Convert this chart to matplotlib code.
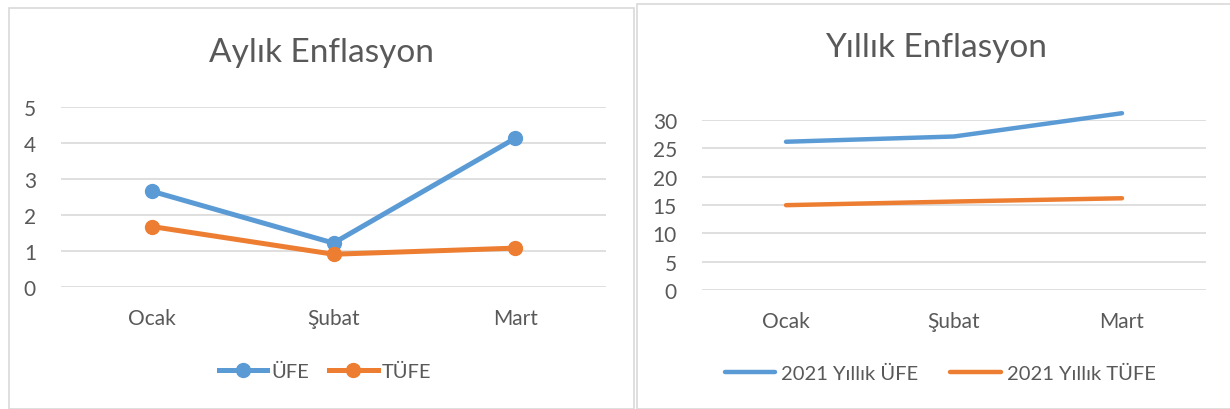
import matplotlib
matplotlib.use('Agg')
import matplotlib.pyplot as plt
from matplotlib.patches import Rectangle

aylar = ['Ocak', 'Şubat', 'Mart']
aylik_ufe = [2.66, 1.22, 4.13]
aylik_tufe = [1.68, 0.91, 1.08]
yillik_ufe = [26.16, 27.09, 31.20]
yillik_tufe = [14.97, 15.61, 16.19]

mavi = '#5B9BD5'
turuncu = '#ED7D31'
gri = '#595959'
plt.rcParams['font.family'] = ['Lato', 'DejaVu Sans']

W, H = 1230, 410
fig = plt.figure(figsize=(W / 100, H / 100), dpi=100)

def px(x0, y0, x1, y1):
    # piksel -> figure oranı
    return [x0 / W, 1 - y1 / H, (x1 - x0) / W, (y1 - y0) / H]

# kutular
fig.patches.append(Rectangle((9 / W, 0), (634 - 9) / W, 1 - 9 / H, transform=fig.transFigure,
                             fill=False, edgecolor='#D9D9D9', lw=1.2))
fig.patches.append(Rectangle((637 / W, 0), (1240 - 637) / W, 1 - 5 / H, transform=fig.transFigure,
                             fill=False, edgecolor='#D9D9D9', lw=1.2))

def stil(ax, yticks):
    for s in ax.spines.values():
        s.set_visible(False)
    ax.set_yticks(yticks)
    ax.grid(axis='y', color='#D9D9D9', lw=1.2)
    ax.set_axisbelow(True)
    ax.tick_params(length=0, labelsize=15, colors=gri)
    ax.tick_params(axis='y', pad=18)
    ax.tick_params(axis='x', pad=15)
    ax.set_xlim(-0.5, 2.5)

# Aylık
ax1 = fig.add_axes(px(61, 108, 606, 288))
ax1.plot(aylar, aylik_ufe, color=mavi, lw=3.6, marker='o', ms=10, label='ÜFE', clip_on=False)
ax1.plot(aylar, aylik_tufe, color=turuncu, lw=3.6, marker='o', ms=10, label='TÜFE', clip_on=False)
ax1.set_ylim(0, 5)
stil(ax1, range(0, 6))
fig.text(321 / W, 1 - 53 / H, 'Aylık Enflasyon', ha='center', va='center', fontsize=24, color=gri)
ax1.legend(loc='center', bbox_to_anchor=(325 / W, 1 - 372 / H), bbox_transform=fig.transFigure,
           ncol=2, frameon=False, fontsize=14.5, labelcolor=gri, handlelength=2.4,
           handletextpad=0.2, columnspacing=1.0)

# Yıllık
ax2 = fig.add_axes(px(702, 121, 1206, 291))
ax2.plot(aylar, yillik_ufe, color=mavi, lw=3.2, solid_capstyle='round', label='2021 Yıllık ÜFE', clip_on=False)
ax2.plot(aylar, yillik_tufe, color=turuncu, lw=3.2, solid_capstyle='round', label='2021 Yıllık TÜFE', clip_on=False)
ax2.set_ylim(0, 30)
stil(ax2, range(0, 31, 5))
fig.text(936 / W, 1 - 48 / H, 'Yıllık Enflasyon', ha='center', va='center', fontsize=24, color=gri)
ax2.legend(loc='center', bbox_to_anchor=(940 / W, 1 - 374 / H), bbox_transform=fig.transFigure,
           ncol=2, frameon=False, fontsize=14.5, labelcolor=gri, handlelength=2.5,
           handletextpad=0.3, columnspacing=1.6)

fig.savefig('out.png', dpi=100, facecolor='white')
